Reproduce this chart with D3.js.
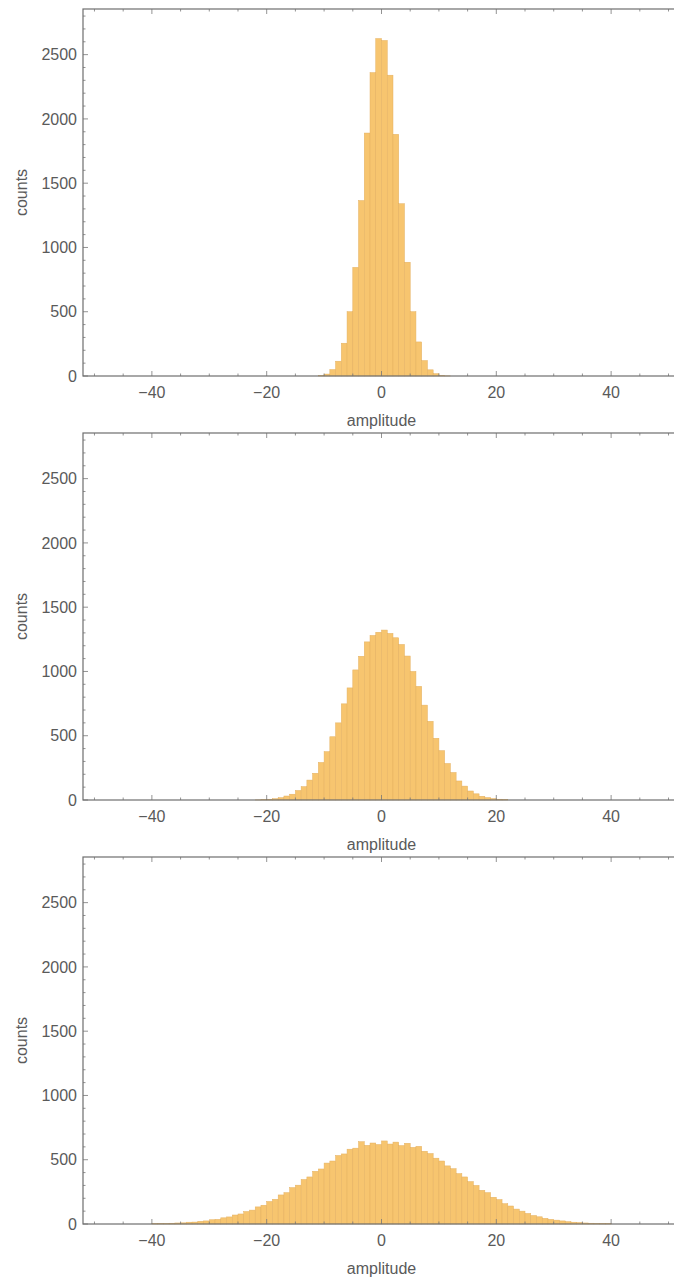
<!DOCTYPE html>
<html>
<head>
<meta charset="utf-8">
<script src="https://cdn.jsdelivr.net/npm/d3@7"></script>
<style>
    body { margin: 0; background: #fff; }
    svg text { font-family: "Liberation Sans", Arial, sans-serif; fill: #5a5a5a; }
</style>
</head>
<body>
<div id="chart-area"></div>
<script>

// bin width is 1, first bin starts at *Start
const narrowStart = -12;
const narrowCounts = [0, 2, 15, 50, 115, 255, 500, 845, 1365, 1890, 2360, 2625,
    2610, 2340, 1880, 1340, 885, 500, 265, 120, 48, 18, 4, 1];

const mediumStart = -22;
const mediumCounts = [1, 3, 6, 10, 18, 31, 45, 74, 104, 155, 208, 292, 376, 492, 600, 748, 872, 1012, 1118, 1230, 1280, 1305,
    1322, 1296, 1262, 1210, 1120, 1000, 884, 738, 612, 480, 384, 284, 214, 148, 108, 70, 48, 29, 19, 11, 6, 3];

const wideStart = -40;
const wideCounts = [2, 4, 3, 6, 8, 9, 14, 15, 21, 24, 33, 36, 48, 55, 70, 78, 97, 108, 133, 146,
    175, 192, 226, 244, 283, 302, 346, 366, 410, 428, 474, 490, 533, 545, 582, 590, 640, 612, 630, 618,
    646, 622, 637, 610, 628, 596, 604, 566, 548, 512, 490, 452, 430, 392, 366, 330, 300, 262, 244, 208,
    190, 158, 140, 116, 100, 82, 66, 56, 44, 36, 30, 24, 18, 14, 11, 8, 6, 4, 3, 2];

const xTicks = [-40, -20, 0, 20, 40];
const yTicks = [0, 500, 1000, 1500, 2000, 2500];
const xDomain = [-52, 52];
const yDomain = [0, 2855];

const xLabel = "amplitude";
const yLabel = "counts";


class HistVis {

    constructor(_svg, _start, _counts, _offsetY) {
        this.svg = _svg;
        this.start = _start;
        this.counts = _counts;
        this.offsetY = _offsetY;

        this.initVis();
    }

    initVis() {
        let vis = this;

        vis.left = 83;
        vis.top = 9;
        vis.width = 597;
        vis.height = 367;

        vis.g = vis.svg.append("g")
            .attr("transform", "translate(" + vis.left + "," + (vis.top + vis.offsetY) + ")");

        vis.x = d3.scaleLinear().domain(xDomain).range([0, vis.width]);
        vis.y = d3.scaleLinear().domain(yDomain).range([vis.height, 0]);

        vis.wrangleData();
    }

    wrangleData() {
        let vis = this;
        vis.displayData = vis.counts.map((c, i) => ({ x0: vis.start + i, x1: vis.start + i + 1, value: c }));
        vis.updateVis();
    }

    updateVis() {
        let vis = this;

        vis.g.selectAll(".bar")
            .data(vis.displayData)
            .enter().append("rect")
            .attr("class", "bar")
            .attr("x", d => vis.x(d.x0))
            .attr("width", d => vis.x(d.x1) - vis.x(d.x0))
            .attr("y", d => vis.y(d.value))
            .attr("height", d => vis.height - vis.y(d.value))
            .attr("fill", "#f7c56f")
            .attr("stroke", "#e4b060")
            .attr("stroke-width", 0.5);

        // minor ticks, inward on all four sides
        let xMinor = d3.range(-50, 51, 5);
        let yMinor = d3.range(0, 2801, 100);

        let ticks = vis.g.append("g").attr("stroke", "#777").attr("stroke-width", 0.8);

        xMinor.forEach(t => {
            let len = xTicks.includes(t) ? 5 : 2.5;
            ticks.append("line")
                .attr("x1", vis.x(t)).attr("x2", vis.x(t))
                .attr("y1", vis.height).attr("y2", vis.height - len);
            ticks.append("line")
                .attr("x1", vis.x(t)).attr("x2", vis.x(t))
                .attr("y1", 0).attr("y2", len);
        });
        yMinor.forEach(t => {
            let len = yTicks.includes(t) ? 5 : 2.5;
            ticks.append("line")
                .attr("x1", 0).attr("x2", len)
                .attr("y1", vis.y(t)).attr("y2", vis.y(t));
            ticks.append("line")
                .attr("x1", vis.width).attr("x2", vis.width - len)
                .attr("y1", vis.y(t)).attr("y2", vis.y(t));
        });

        // frame
        vis.g.append("rect")
            .attr("width", vis.width)
            .attr("height", vis.height)
            .attr("fill", "none")
            .attr("stroke", "#6e6e6e")
            .attr("stroke-width", 1.2);

        // tick labels
        vis.g.selectAll(".x-label")
            .data(xTicks)
            .enter().append("text")
            .attr("class", "x-label")
            .attr("x", d => vis.x(d))
            .attr("y", vis.height + 22)
            .attr("text-anchor", "middle")
            .style("font-size", "16px")
            .text(d => d < 0 ? "\u2212" + Math.abs(d) : d);

        vis.g.selectAll(".y-label")
            .data(yTicks)
            .enter().append("text")
            .attr("class", "y-label")
            .attr("x", -6)
            .attr("y", d => vis.y(d))
            .attr("dy", "0.35em")
            .attr("text-anchor", "end")
            .style("font-size", "16px")
            .text(d => d);

        // axis titles
        vis.g.append("text")
            .attr("x", vis.x(0))
            .attr("y", vis.height + 50)
            .attr("text-anchor", "middle")
            .style("font-size", "16px")
            .text(xLabel);

        vis.g.append("text")
            .attr("transform", "rotate(-90)")
            .attr("x", -(vis.height / 2))
            .attr("y", -56)
            .attr("text-anchor", "middle")
            .style("font-size", "16px")
            .text(yLabel);
    }
}

let svg = d3.select("#chart-area").append("svg")
    .attr("width", 674)
    .attr("height", 1280);

new HistVis(svg, narrowStart, narrowCounts, 0);
new HistVis(svg, mediumStart, mediumCounts, 424);
new HistVis(svg, wideStart, wideCounts, 848);

</script>
</body>
</html>
